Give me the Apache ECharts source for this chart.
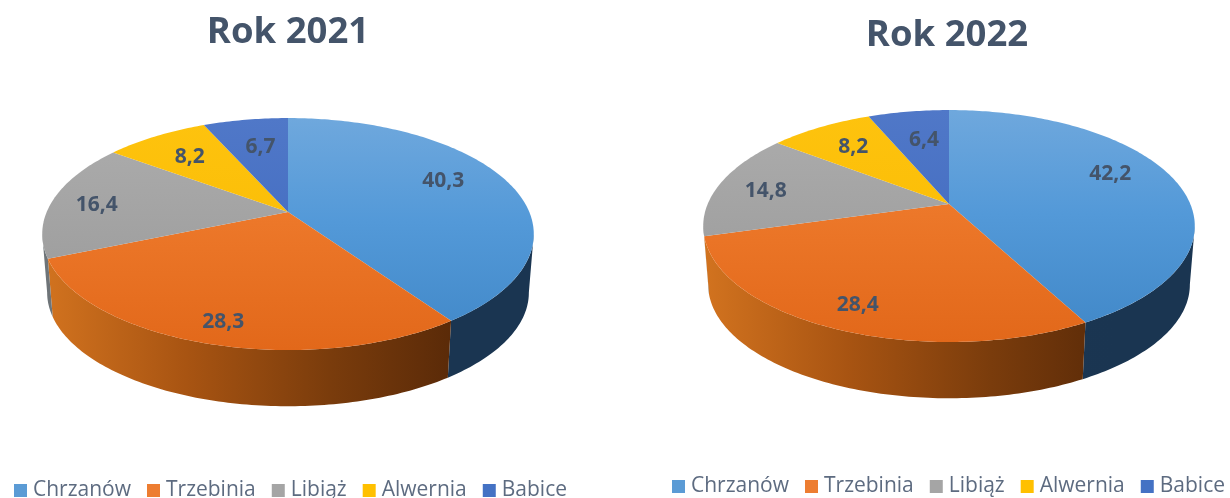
<!DOCTYPE html>
<html>
<head>
<meta charset="utf-8">
<style>html,body{margin:0;padding:0;background:#fff}#c{width:1230px;height:498px}</style>
<script src="https://cdn.jsdelivr.net/npm/echarts@6/dist/echarts.min.js"></script>
</head>
<body>
<div id="c"></div>
<script>
const categories = ['Chrzanów', 'Trzebinia', 'Libiąż', 'Alwernia', 'Babice'];
const values2021 = [40.3, 28.3, 16.4, 8.2, 6.7];
const values2022 = [42.2, 28.4, 14.8, 8.2, 6.4];
const titles = ['Rok 2021', 'Rok 2022'];

const FONT = '"Open Sans","Noto Sans",sans-serif';
const legendColors = ['#5b9bd5', '#ed7d31', '#a5a5a5', '#ffc000', '#4472c4'];
const topStops = [
  [[0, '#6fa8dd'], [0.45, '#5399d8'], [1, '#4087c7']],
  [[0, '#ef8a50'], [0.35, '#ee7a2c'], [1, '#e2681a']],
  [[0, '#adadad'], [1, '#979797']],
  [[0, '#fec30e'], [1, '#f8b900']],
  [[0, '#5078c8'], [1, '#3c66bd']]
];
const sideStops = [
  [[0, '#1c3a56'], [1, '#1a3551']],
  [[0, '#d2731f'], [0.35, '#a85412'], [0.7, '#7a3c0c'], [1, '#5a2a08']],
  [[0, '#6e7478'], [1, '#6e7478']],
  [[0, '#9a7400'], [1, '#9a7400']],
  [[0, '#2a4477'], [1, '#2a4477']]
];
// perspective disc layout for each chart
const discs = [
  { values: values2021, cx: 288, cy: 212, labelR: [0.72, 0.85, 0.80, 0.70, 0.68],
    labelShift: [[-4, -8], [3, 2], [-3, 3], [-2, 0], [3, 1]] },
  { values: values2022, cx: 949, cy: 204, labelR: [0.72, 0.78, 0.80, 0.70, 0.68],
    labelShift: [[-2, -11], [-6, 8], [1, 3], [-2, -1], [4, 2]] }
];
const K = 0.19, AX = 241.3, BY = 111.8, DEPTH = 59, SHRINK = 0.98;
// the side wall is only visible between the two horizontal extremes of the rim
const FRONT_START = Math.acos(-K), FRONT_END = 2 * Math.PI - FRONT_START;

function project(d, theta, r, lower) {
  const sx = Math.sin(theta) * r, sy = -Math.cos(theta) * r;
  const w = 1 - K * sy;
  const s = lower ? SHRINK : 1;
  return [d.cx + s * AX * sx / w, d.cy + (lower ? DEPTH : 0) + s * BY * sy / w];
}
function arc(d, a0, a1, lower) {
  const n = Math.max(2, Math.ceil((a1 - a0) * 60)), pts = [];
  for (let i = 0; i <= n; i++) pts.push(project(d, a0 + (a1 - a0) * i / n, 1, lower));
  return pts;
}
function grad(x0, y0, x1, y1, stops) {
  return {
    type: 'linear', global: true, x: x0, y: y0, x2: x1, y2: y1,
    colorStops: stops.map(s => ({ offset: s[0], color: s[1] }))
  };
}
function sliceRenderer(chartIdx, sliceIdx) {
  return function (params, api) {
    const d = discs[chartIdx];
    const total = d.values.reduce((a, b) => a + b, 0);
    let start = 0;
    for (let i = 0; i < sliceIdx; i++) start += d.values[i];
    const val = api.value(0);
    const a0 = start / total * 2 * Math.PI;
    const a1 = (start + val) / total * 2 * Math.PI;
    const children = [];
    const f0 = Math.max(a0, FRONT_START), f1 = Math.min(a1, FRONT_END);
    if (f1 > f0) {
      children.push({
        type: 'polygon', z2: 1,
        shape: { points: arc(d, f0, f1, false).concat(arc(d, f0, f1, true).reverse()) },
        style: { fill: grad(d.cx - 245, 0, d.cx + 165, 0, sideStops[sliceIdx]) }
      });
    }
    children.push({
      type: 'polygon', z2: 2,
      shape: { points: [[d.cx, d.cy]].concat(arc(d, a0, a1, false)) },
      style: { fill: grad(0, d.cy - 95, 0, d.cy + 138, topStops[sliceIdx]) }
    });
    const mid = project(d, (a0 + a1) / 2, d.labelR[sliceIdx], false);
    const shift = d.labelShift[sliceIdx];
    children.push({
      type: 'text', z2: 3, x: mid[0] + shift[0], y: mid[1] + shift[1],
      style: {
        text: val.toFixed(1).replace('.', ','),
        fill: '#44546a', font: 'bold 21px ' + FONT,
        align: 'center', verticalAlign: 'middle'
      }
    });
    return { type: 'group', children };
  };
}

const series = [];
discs.forEach((d, ci) => {
  categories.forEach((name, si) => {
    series.push({
      type: 'custom', name, coordinateSystem: 'none', silent: true, animation: false,
      itemStyle: { color: legendColors[si] },
      data: [[d.values[si]]],
      renderItem: sliceRenderer(ci, si)
    });
  });
});

const legendBase = {
  data: categories, icon: 'rect', itemWidth: 13, itemHeight: 13, itemGap: 16, selectedMode: false,
  padding: 0, width: 600,
  textStyle: { color: '#5d6b80', fontSize: 21, fontFamily: FONT, padding: [0, 0, 0, 1] }
};
const chart = echarts.init(document.getElementById('c'), null, { renderer: 'canvas' });
chart.setOption({
  animation: false,
  backgroundColor: '#ffffff',
  title: [
    { text: titles[0], left: 283, top: 9, textAlign: 'center', textStyle: { color: '#44546a', fontSize: 36.5, fontWeight: 'bold', fontFamily: FONT } },
    { text: titles[1], left: 942, top: 12, textAlign: 'center', textStyle: { color: '#44546a', fontSize: 36.5, fontWeight: 'bold', fontFamily: FONT } }
  ],
  legend: [
    Object.assign({}, legendBase, { left: 14, top: 480 }),
    Object.assign({}, legendBase, { left: 672, top: 476 })
  ],
  series
});
</script>
</body>
</html>
